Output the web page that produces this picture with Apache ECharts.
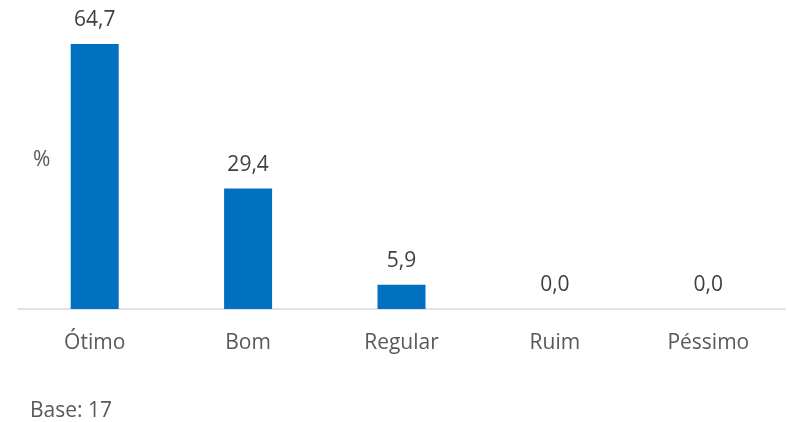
<!DOCTYPE html>
<html><head><meta charset="utf-8">
<script src="https://cdn.jsdelivr.net/npm/echarts@6/dist/echarts.min.js"></script>
<style>html,body{margin:0;padding:0;background:#fff}#c{width:788px;height:422px}</style>
</head><body><div id="c"></div>
<script>
const categories = ['Ótimo', 'Bom', 'Regular', 'Ruim', 'Péssimo'];
const values = [64.7, 29.4, 5.9, 0.0, 0.0];
const unitLabel = '%';
const baseNote = 'Base: 17';

const chart = echarts.init(document.getElementById('c'));
const font = '"Open Sans", "Noto Sans", sans-serif';
chart.setOption({
  animation: false,
  grid: { left: 18, right: 3, top: 22.3, bottom: 113, containLabel: false },
  xAxis: {
    type: 'category', data: categories,
    axisLine: { lineStyle: { color: '#d9d9d9', width: 1.5 } },
    axisTick: { show: false },
    axisLabel: { color: '#595959', fontSize: 21, fontFamily: font, margin: 24 }
  },
  yAxis: { type: 'value', min: 0, max: 70, show: false, splitLine: { show: false } },
  series: [{
    type: 'bar', data: values, barWidth: 48,
    itemStyle: { color: '#0070C0' },
    label: {
      show: true, position: 'top', distance: 13, color: '#404040', fontSize: 21, fontFamily: font,
      formatter: p => p.value.toFixed(1).replace('.', ',')
    }
  }],
  graphic: [
    { type: 'text', left: 33, top: 150, style: { text: unitLabel, fill: '#595959', font: '21px ' + font } },
    { type: 'text', left: 30, top: 401, style: { text: baseNote, fill: '#595959', font: '21px ' + font } }
  ]
});
</script></body></html>
